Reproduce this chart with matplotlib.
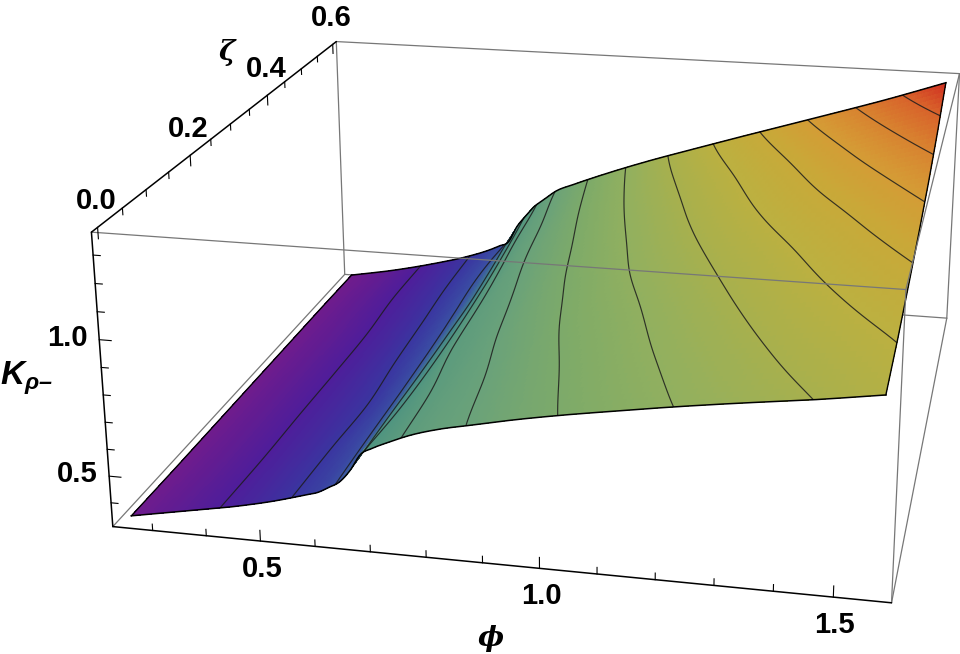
import numpy as np
import matplotlib
matplotlib.use('Agg')
import matplotlib.pyplot as plt
from matplotlib.colors import LinearSegmentedColormap

plt.rcParams['font.family'] = ['Liberation Sans', 'DejaVu Sans']
plt.rcParams['mathtext.fontset'] = 'custom'
plt.rcParams['mathtext.rm'] = 'Liberation Sans:bold:italic'
plt.rcParams['mathtext.it'] = 'Liberation Sans:bold:italic'

phi_values = [.25, .35, .45, .52, .58, .60, .62, .64, .66, .68, .70, .73, .77, .82, .88, .95, 1.03, 1.12, 1.22, 1.33, 1.45, 1.57]
zeta_values = [0, .1, .2, .3, .4, .5, .6]

k_zeta_00 = [.332, .369, .407, .440, .475, .487, .509, .533, .579, .642, .666, .694, .727, .757, .783, .813, .843, .873, .905, .937, .969, 1.006]
k_zeta_01 = [.330, .367, .406, .439, .476, .493, .511, .541, .585, .630, .660, .698, .732, .764, .796, .829, .861, .895, .929, .965, 1.002, 1.037]
k_zeta_02 = [.330, .367, .406, .438, .474, .494, .514, .546, .587, .628, .662, .715, .745, .781, .814, .850, .883, .919, .957, .997, 1.039, 1.080]
k_zeta_03 = [.330, .367, .406, .441, .482, .501, .520, .555, .592, .633, .673, .727, .762, .797, .834, .870, .910, .948, .989, 1.032, 1.081, 1.129]
k_zeta_04 = [.330, .366, .407, .444, .489, .508, .529, .562, .600, .648, .695, .742, .781, .815, .853, .894, .936, .980, 1.027, 1.078, 1.131, 1.187]
k_zeta_05 = [.330, .368, .411, .449, .496, .514, .540, .578, .625, .675, .720, .759, .796, .835, .876, .921, .966, 1.014, 1.068, 1.128, 1.194, 1.261]
k_zeta_06 = [.328, .365, .412, .451, .495, .514, .534, .607, .658, .704, .735, .781, .816, .856, .901, .950, 1.002, 1.060, 1.123, 1.192, 1.269, 1.352]

contour_levels = [.394, .458, .522, .586, .65, .714, .778, .842, .906, .97, 1.034, 1.098, 1.162, 1.226, 1.29]

phi_major = [.5, 1.0, 1.5]
phi_minor = [.3, .4, .6, .7, .8, .9, 1.1, 1.2, 1.3, 1.4]
zeta_major = [0, .2, .4, .6]
zeta_minor = [.05, .1, .15, .25, .3, .35, .45, .5, .55]
k_major = [.5, 1.0]
k_minor = [.4, .6, .7, .8, .9, 1.1, 1.2, 1.3]

# box limits and where its corners sit in the picture (camera calibration)
X0, X1, Y0, Y1, Z0, Z1 = .225, 1.596, -.012, .612, .31, 1.38
box_world = [(X0, Y0, Z0), (X1, Y0, Z0), (X0, Y0, Z1), (X0, Y1, Z1), (X1, Y0, Z1), (X1, Y1, Z1), (X1, Y1, Z0), (X0, Y1, Z0)]
box_px = [(112.6, 526.7), (890.7, 602.7), (91.7, 231.7), (336, 41.7), (906.7, 290), (959, 73.5), (947.3, 318), (345, 274.5)]

rainbow = LinearSegmentedColormap.from_list('rainbow', [
    (0.0, '#701c8c'), (0.06, '#4f1d9a'), (0.125, '#3a35a0'), (0.19, '#3a50a4'), (0.26, '#40808e'),
    (0.32, '#4f9480'), (0.44, '#6aa27a'), (0.51, '#7fab68'), (0.57, '#93b05e'), (0.63, '#a9b04c'),
    (0.69, '#bcb040'), (0.76, '#c9a838'), (0.82, '#d59a35'), (0.88, '#d8802f'), (0.94, '#d8602a'), (1.0, '#cf2b20')])

rows = []
for (x, y, z), (u, v) in zip(box_world, box_px):
    rows.append([x, y, z, 1, 0, 0, 0, 0, -u*x, -u*y, -u*z, -u])
    rows.append([0, 0, 0, 0, x, y, z, 1, -v*x, -v*y, -v*z, -v])
P = np.linalg.svd(np.array(rows))[2][-1].reshape(3, 4)
if P[2, 3] < 0:
    P = -P

fig = plt.figure(figsize=(9.6, 6.54), dpi=100)
ax = fig.add_subplot(projection='3d', computed_zorder=False)
ax.set_position([0, -153/654, 1, 960/654])
ax.set_axis_off()


def get_proj():
    inv = ax.transData.inverted()
    o = inv.transform((0, 0))
    e = inv.transform((1, 1)) - o
    M = np.zeros((4, 4))
    M[0] = e[0]*P[0] + o[0]*P[2]
    M[1] = -e[1]*P[1] + (o[1] + 654*e[1])*P[2]
    M[2, 3] = -1
    M[3] = P[2]
    return M


ax.get_proj = get_proj


def to_fig(x, y, z, dx=0, dy=0):
    r = P @ np.array([x, y, z, 1.])
    return (r[0]/r[2] + dx)/960, 1 - (r[1]/r[2] + dy)/654


def hermite(xnew, x, y):
    # cubic through the read values, only to get smooth shading and mesh lines
    m = np.gradient(y, x)
    i = np.clip(np.searchsorted(x, xnew) - 1, 0, len(x) - 2)
    h = x[i + 1] - x[i]
    t = (xnew - x[i])/h
    return ((2*t**3 - 3*t**2 + 1)*y[i] + (t**3 - 2*t**2 + t)*h*m[i]
            + (-2*t**3 + 3*t**2)*y[i + 1] + (t**3 - t**2)*h*m[i + 1])


phi = np.array(phi_values)
zeta = np.array(zeta_values, dtype=float)
K = np.array([k_zeta_00, k_zeta_01, k_zeta_02, k_zeta_03, k_zeta_04, k_zeta_05, k_zeta_06])

phi_fine = np.linspace(phi[0], phi[-1], 331)
zeta_fine = np.linspace(zeta[0], zeta[-1], 61)
K_fine = np.array([hermite(phi_fine, phi, r) for r in K])
K_fine = np.array([hermite(zeta_fine, zeta, K_fine[:, j]) for j in range(len(phi_fine))]).T
PHI, ZETA = np.meshgrid(phi_fine, zeta_fine)
colors = rainbow((K_fine - K.min())/(K.max() - K.min()))

grey = dict(color='#777777', lw=.9, solid_capstyle='round')
black = dict(color='black', lw=1.1, solid_capstyle='round')
# box edges behind the surface
for a, b in [((X0, Y1, Z1), (X1, Y1, Z1)), ((X0, Y1, Z1), (X0, Y1, Z0)), ((X0, Y1, Z0), (X1, Y1, Z0)),
             ((X1, Y1, Z1), (X1, Y1, Z0)), ((X0, Y0, Z0), (X0, Y1, Z0)), ((X1, Y0, Z0), (X1, Y1, Z0))]:
    ax.plot(*zip(a, b), zorder=1, **grey)

ax.plot_surface(PHI, ZETA, K_fine, facecolors=colors, rstride=1, cstride=1, shade=False,
                linewidth=0, antialiased=False, zorder=2)
ax.contour(PHI, ZETA, K_fine, levels=contour_levels, colors='#1c1c1c', linewidths=.85, alpha=.85, zorder=3)

# outline of the surface
ax.plot(phi_fine, np.full(len(phi_fine), zeta[0]), K_fine[0], color='black', lw=1.1, zorder=4)
ax.plot(phi_fine, np.full(len(phi_fine), zeta[-1]), K_fine[-1], color='black', lw=1.1, zorder=4)
ax.plot(np.full(len(zeta), phi[0]), zeta, K[:, 0], color='black', lw=1.0, zorder=4)
ax.plot(np.full(len(zeta), phi[-1]), zeta, K[:, -1], color='black', lw=1.0, zorder=4)

# box edges in front of the surface
for a, b in [((X0, Y0, Z1), (X1, Y0, Z1)), ((X1, Y0, Z1), (X1, Y0, Z0)), ((X1, Y0, Z1), (X1, Y1, Z1))]:
    ax.plot(*zip(a, b), zorder=5, **grey)
# framed axes
for a, b in [((X0, Y0, Z1), (X0, Y1, Z1)), ((X0, Y0, Z1), (X0, Y0, Z0)), ((X0, Y0, Z0), (X1, Y0, Z0))]:
    ax.plot(*zip(a, b), zorder=6, **black)

for t in phi_major + phi_minor:
    ax.plot([t, t], [Y0, Y0], [Z0, Z0 + (.04 if t in phi_major else .024)], color='black', lw=.8, zorder=6)
for t in zeta_major + zeta_minor:
    ax.plot([X0, X0], [t, t], [Z1, Z1 - (.04 if t in zeta_major else .024)], color='black', lw=.8, zorder=6)
for t in k_major + k_minor:
    ax.plot([X0, X0 + (.022 if t in k_major else .013)], [Y0, Y0], [t, t], color='black', lw=.8, zorder=6)

font = dict(fontsize=21, fontweight='bold', ha='center', va='center', zorder=7, transform=fig.transFigure)
for t in phi_major:
    ax.text2D(*to_fig(t, Y0, Z0, 1.5, 27.5), f'{t:.1f}', **font)
for t in zeta_major:
    ax.text2D(*to_fig(X0, t, Z1, -1.5, -26), f'{t:.1f}', **font)
for t in k_major:
    ax.text2D(*to_fig(X0, Y0, t, -32, -2), f'{t:.1f}', **font)

title = dict(transform=fig.transFigure, ha='center', va='center', zorder=7)
greek = dict(family=['DejaVu Serif'], fontsize=20, fontweight='bold', fontstyle='italic')
ax.text2D(490.7/960, 1 - 639/654, 'ϕ', **greek, **title)
ax.text2D(226.7/960, 1 - 53/654, 'ζ', **greek, **title)
ax.text2D(26/960, 1 - 378/654, r'$K_{\rho\text{–}}$', fontsize=24, **title)

fig.savefig('out.png', dpi=100)
